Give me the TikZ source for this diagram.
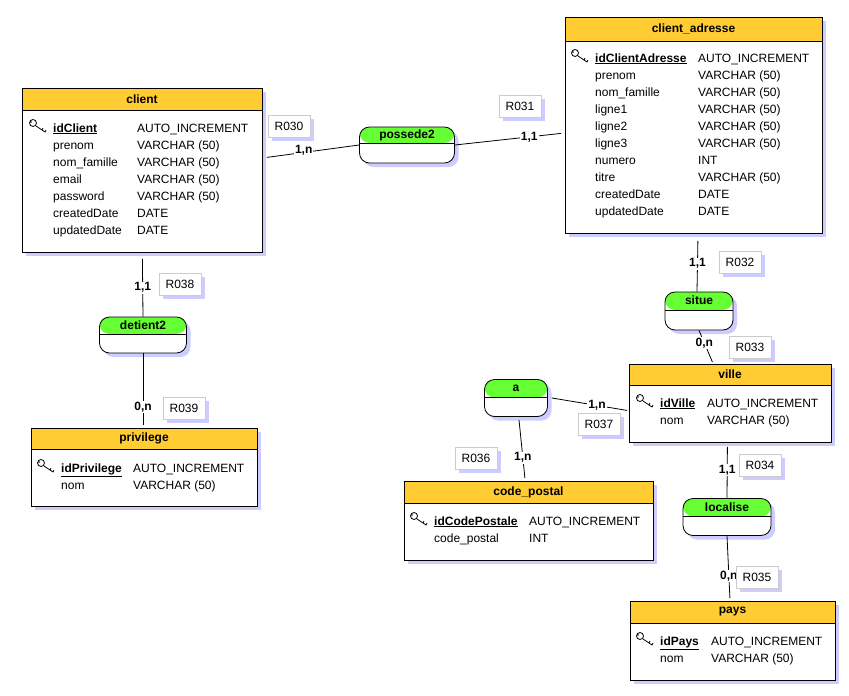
\documentclass[tikz,border=0pt]{standalone}
\usepackage{fontspec}
\setmainfont{Liberation Sans}
\usetikzlibrary{shadows,calc}

\definecolor{entHead}{HTML}{FFCC33}
\definecolor{assHead}{HTML}{66FF33}
\definecolor{shade}{HTML}{CCCCFF}

\tikzset{
  shad/.style={drop shadow={shadow xshift=4pt, shadow yshift=-4pt, fill=shade, opacity=1}},
  entity/.style={draw, thick, fill=white, anchor=north west, inner sep=0pt, shad},
  assoc/.style={draw, thick, fill=white, rounded corners=10pt, inner sep=0pt, shad,
    path picture={\fill[assHead] (path picture bounding box.north west) rectangle
      ([yshift=-#1pt]path picture bounding box.north east);
      \draw[thick] ([yshift=-#1pt]path picture bounding box.north west) --
      ([yshift=-#1pt]path picture bounding box.north east);}},
  title/.style={font=\fontsize{12}{14}\selectfont\bfseries},
  attr/.style={anchor=base west, inner sep=0pt, font=\fontsize{12}{14}\selectfont},
  role/.style={draw=black!20, thick, fill=white, minimum width=42pt, minimum height=22pt,
    font=\fontsize{12}{14}\selectfont, shad},
  card/.style={fill=white, inner sep=1pt, font=\fontsize{12}{14}\selectfont\bfseries},
  link/.style={thick}
}

\newcommand{\pk}[1]{\textbf{\underline{#1}}}

\newcommand{\keyicon}[1]{%
  \draw[thick] ($(#1)+(-20,-9)$) circle (3.5pt);
  \draw[thick] ($(#1)+(-17,-6)$) -- ($(#1)+(-8,0)$) -- ($(#1)+(-7,-2)$);
  \draw[thick] ($(#1)+(-11,-2)$) -- ($(#1)+(-10,-4)$);
  \fill ($(#1)+(-22,-10)$) circle (0.8pt);}

\newcommand{\entitybox}[7]{% name, x1, y1, x2, y2, header height, title
  \node[entity, minimum width={(#4-#2)*1pt}, minimum height={(#5-#3)*1pt},
    path picture={\fill[entHead] (path picture bounding box.north west) rectangle
      ([yshift=-#6pt]path picture bounding box.north east);
      \draw[thick] ([yshift=-#6pt]path picture bounding box.north west) --
      ([yshift=-#6pt]path picture bounding box.north east);}] (#1) at (#2,#3) {};
  \node[title] (#1-t) at ({(#2+#4)/2},{#3+#6/2}) {#7};}

\begin{document}
\begin{tikzpicture}[x=1pt,y=-1pt]
\useasboundingbox (0,0) rectangle (849,696);

% entities
\entitybox{client}{22}{88}{262}{252}{22}{client}
\entitybox{adresse}{565}{17}{822}{233}{24}{client\_adresse}
\entitybox{privilege}{31}{428}{257}{506}{21}{privilege}
\entitybox{ville}{629}{364}{831}{442}{21}{ville}
\entitybox{cp}{404}{481}{653}{560}{22}{code\_postal}
\entitybox{pays}{630}{601}{835}{680}{22}{pays}

% attributes
\foreach \n/\t [count=\i from 0] in {\pk{idClient}/AUTO\_INCREMENT, prenom/VARCHAR (50),
    nom\_famille/VARCHAR (50), email/VARCHAR (50), password/VARCHAR (50),
    createdDate/DATE, updatedDate/DATE}{
  \node[attr] (client-n\i) at (53,{132+17*\i}) {\n};
  \node[attr] (client-y\i) at (137,{132+17*\i}) {\t};
}
\foreach \n/\t [count=\i from 0] in {\pk{idClientAdresse}/AUTO\_INCREMENT, prenom/VARCHAR (50),
    nom\_famille/VARCHAR (50), ligne1/VARCHAR (50), ligne2/VARCHAR (50),
    ligne3/VARCHAR (50), numero/INT, titre/VARCHAR (50), createdDate/DATE, updatedDate/DATE}{
  \node[attr] (adresse-n\i) at (595,{62+17*\i}) {\n};
  \node[attr] (adresse-y\i) at (698,{62+17*\i}) {\t};
}
\foreach \n/\t [count=\i from 0] in {\pk{idPrivilege}/AUTO\_INCREMENT, nom/VARCHAR (50)}{
  \node[attr] (privilege-n\i) at (61,{472+17*\i}) {\n};
  \node[attr] (privilege-y\i) at (133,{472+17*\i}) {\t};
}
\foreach \n/\t [count=\i from 0] in {\pk{idVille}/AUTO\_INCREMENT, nom/VARCHAR (50)}{
  \node[attr] (ville-n\i) at (660,{407+17*\i}) {\n};
  \node[attr] (ville-y\i) at (707,{407+17*\i}) {\t};
}
\foreach \n/\t [count=\i from 0] in {\pk{idCodePostale}/AUTO\_INCREMENT, code\_postal/INT}{
  \node[attr] (cp-n\i) at (434,{525+17*\i}) {\n};
  \node[attr] (cp-y\i) at (529,{525+17*\i}) {\t};
}
\foreach \n/\t [count=\i from 0] in {\pk{idPays}/AUTO\_INCREMENT, nom/VARCHAR (50)}{
  \node[attr] (pays-n\i) at (660,{645+17*\i}) {\n};
  \node[attr] (pays-y\i) at (711,{645+17*\i}) {\t};
}
% primary keys
\foreach \e in {client, adresse, privilege, ville, cp, pays}{
  \keyicon{\e-n0.base west}
}

% associations
\node[assoc=16, minimum width=95pt, minimum height=36pt] (possede2) at (407,145) {};
\node[assoc=17, minimum width=87pt, minimum height=36pt] (detient2) at (143,335) {};
\node[assoc=18, minimum width=68pt, minimum height=38pt] (situe) at (699,311) {};
\node[assoc=18, minimum width=63pt, minimum height=37pt] (a) at (516,398) {};
\node[assoc=18, minimum width=88pt, minimum height=37pt] (localise) at (727,517) {};
\foreach \s/\t in {possede2/possede2, detient2/detient2, situe/situe, a/a, localise/localise}{
  \node[title] at ([yshift=-9pt]\s.north) {\t};
}

% links
\draw[link] ([xshift=4pt, yshift=13pt]client.east) -- (possede2.west) node[card, pos=0.4, yshift=2pt] {1,n};
\draw[link] (possede2.east) -- ([xshift=-4pt, yshift=-8pt]adresse.west) node[card, pos=0.7] {1,1};
\draw[link] ([yshift=-6pt]client.south) -- (detient2.north) node[card, pos=0.5] {1,1};
\draw[link] (detient2.south) -- ([yshift=3pt]privilege.north -| detient2) node[card, pos=0.75] {0,n};
\draw[link] ([xshift=4pt, yshift=-7pt]adresse.south) -- ([xshift=-2pt]situe.north) node[card, pos=0.45] {1,1};
\draw[link] (situe.south) -- ([xshift=-18pt, yshift=2pt]ville.north) node[card, pos=0.4] {0,n};
\draw[link] ([xshift=4pt]a.east) -- ([xshift=-2pt, yshift=-7pt]ville.west) node[card, pos=0.6] {1,n};
\draw[link] ([yshift=-3pt, xshift=3pt]a.south) -- ([xshift=-4pt, yshift=3pt]cp.north) node[card, pos=0.65] {1,n};
\draw[link] ([xshift=-3pt, yshift=-4pt]ville.south) -- (localise.north) node[card, pos=0.45] {1,1};
\draw[link] (localise.south) -- ([xshift=-3pt, yshift=3pt]pays.north) node[card, pos=0.65] {0,n};

% role labels
\node[role] (r030) at (289,126) {R030};
\node[role] (r031) at (520,106) {R031};
\node[role] (r038) at (180,284) {R038};
\node[role] (r039) at (184,408) {R039};
\node[role] (r032) at (740,262) {R032};
\node[role] (r033) at (750,347) {R033};
\node[role] (r036) at (476,458) {R036};
\node[role] (r037) at (599,424) {R037};
\node[role] (r034) at (760,465) {R034};
\node[role] (r035) at (757,577) {R035};
\end{tikzpicture}
\end{document}
